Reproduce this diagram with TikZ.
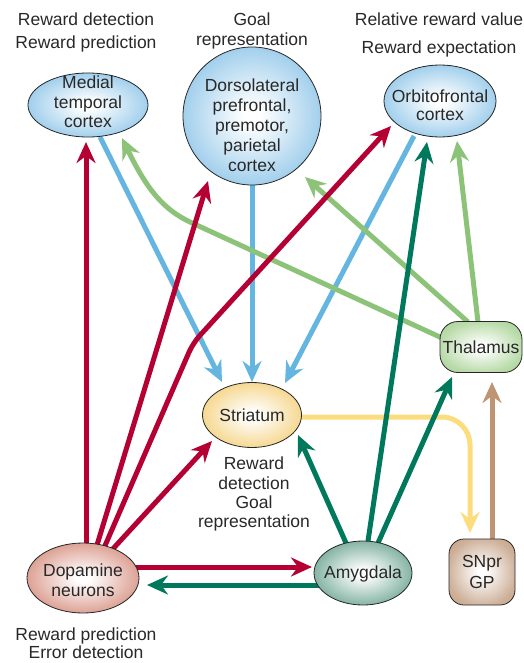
\documentclass[tikz,border=0pt]{standalone}
\usepackage{fontspec}
\setmainfont{Liberation Sans}
\usetikzlibrary{arrows.meta,calc,backgrounds,shapes.geometric}
\definecolor{txtc}{RGB}{40,40,40}
\definecolor{nblue}{RGB}{105,178,225}
\definecolor{nyellow}{RGB}{240,192,78}
\definecolor{nsalmon}{RGB}{200,105,85}
\definecolor{nteal}{RGB}{42,124,98}
\definecolor{nlgreen}{RGB}{145,198,120}
\definecolor{ntan}{RGB}{180,135,100}
\definecolor{ared}{RGB}{180,0,50}
\definecolor{ablue}{RGB}{100,182,224}
\definecolor{algreen}{RGB}{140,195,120}
\definecolor{adgreen}{RGB}{0,120,92}
\definecolor{ayellow}{RGB}{252,220,125}
\definecolor{abrown}{RGB}{190,148,115}
\pgfdeclareradialshading{shblue}{\pgfpoint{0bp}{0bp}}{color(0bp)=(white); color(3bp)=(white); color(26bp)=(nblue!65); color(50bp)=(nblue)}
\pgfdeclareradialshading{shyellow}{\pgfpoint{0bp}{0bp}}{color(0bp)=(white); color(3bp)=(white); color(26bp)=(nyellow!65); color(50bp)=(nyellow)}
\pgfdeclareradialshading{shsalmon}{\pgfpoint{0bp}{0bp}}{color(0bp)=(white); color(3bp)=(white); color(26bp)=(nsalmon!65); color(50bp)=(nsalmon)}
\pgfdeclareradialshading{shteal}{\pgfpoint{0bp}{0bp}}{color(0bp)=(white); color(3bp)=(white); color(26bp)=(nteal!60); color(50bp)=(nteal)}
\pgfdeclareradialshading{shgreen}{\pgfpoint{0bp}{0bp}}{color(0bp)=(white); color(3bp)=(white); color(26bp)=(nlgreen!65); color(50bp)=(nlgreen)}
\pgfdeclareradialshading{shtan}{\pgfpoint{0bp}{0bp}}{color(0bp)=(white); color(3bp)=(white); color(26bp)=(ntan!65); color(50bp)=(ntan)}
\begin{document}
\begin{tikzpicture}[x=1pt,y=-1pt,
  font=\fontsize{17.5}{19.5}\selectfont,
  txt/.style={text=txtc, align=center, inner sep=0pt},
  region/.style={draw=black!85, line width=0.8pt, shade, inner sep=0pt, text=txtc, align=center},
  oval/.style={region, ellipse},
  rbox/.style={region, rectangle, rounded corners=#1},
  conn/.style={line width=5pt, -{Stealth[length=21pt,width=19pt,inset=7pt]}},
]
\useasboundingbox (0,0) rectangle (523,663);

% regions
\node[oval, shading=shblue, minimum width=120pt, minimum height=64pt] (mtc) at (88,105) {};
\node[txt] (mtct) at (88,102) {Medial\\temporal\\cortex};
\node[region, circle, shading=shblue, minimum size=138pt] (dlpf) at (252,116) {};
\node[txt, font=\fontsize{17.5}{20}\selectfont] (dlpft) at (252,125) {Dorsolateral\\prefrontal,\\premotor,\\parietal\\cortex};
\node[oval, shading=shblue, minimum width=112pt, minimum height=72pt] (ofc) at (440,101) {};
\node[txt, font=\fontsize{17.5}{18.5}\selectfont] (ofct) at (440,105) {Orbitofrontal\\cortex};
\node[rbox=18pt, shading=shgreen, minimum width=82pt, minimum height=51pt] (thal) at (481,347) {Thalamus};
\node[oval, shading=shyellow, minimum width=99pt, minimum height=65pt] (str) at (252,415) {Striatum};
\node[oval, shading=shsalmon, minimum width=112pt, minimum height=70pt] (dop) at (83,578) {};
\node[txt, font=\fontsize{17.5}{20}\selectfont] (dopt) at (83,580) {Dopamine\\neurons};
\node[oval, shading=shteal, minimum width=98pt, minimum height=64pt] (amy) at (363,573) {};
\node[txt] (amyt) at (363,574) {Amygdala};
\node[rbox=15pt, shading=shtan, minimum width=66pt, minimum height=66pt, font=\fontsize{17.5}{21}\selectfont] (snpr) at (482,572) {SNpr\\GP};

% labels
\node[txt, font=\fontsize{17.5}{23}\selectfont, anchor=north] (lab1) at (86,13) {Reward detection\\Reward prediction};
\node[txt, font=\fontsize{17.5}{20}\selectfont, anchor=north] (lab2) at (252,13) {Goal\\representation};
\node[txt, font=\fontsize{17.5}{28}\selectfont, anchor=north] (lab3) at (439,13) {Relative reward value\\Reward expectation};
\node[txt, font=\fontsize{17.5}{19.3}\selectfont, anchor=north] (lab4) at (254,457) {Reward\\detection\\Goal\\representation};
\node[txt, font=\fontsize{17.5}{18}\selectfont, anchor=north] (lab5) at (86,628) {Reward prediction\\Error detection};

\coordinate (bend1) at (193,343);
\coordinate (bend2) at (190,222);

\begin{scope}[on background layer]
% blue
\draw[conn, ablue] ($(mtc)+(12,32)$) -- ($(str)+(-30,-33)$);
\draw[conn, ablue] ($(dlpf)+(0,69)$) -- ($(str)+(0,-33)$);
\draw[conn, ablue] ($(ofc)+(-26,35)$) -- ($(str)+(33,-32)$);
% light green
\draw[conn, algreen] ($(thal)+(-39,-9)$) -- (bend2) .. controls (165,210) and (148,192) .. ($(mtc)+(34,33)$);
\draw[conn, algreen] ($(thal)+(-13,-25)$) -- ($(dlpf)+(53,61)$);
\draw[conn, algreen] ($(thal)+(-3,-25)$) -- ($(ofc)+(17,40)$);
% yellow
\draw[conn, ayellow, rounded corners=28pt] ($(str)+(49,2)$) -| ($(snpr)+(-12,-39)$);
% brown
\draw[conn, abrown] ($(snpr)+(10,-33)$) -- ($(thal)+(11,35)$);
% red
\draw[conn, ared] ($(dop)+(3,-35)$) -- ($(mtc)+(-2,37)$);
\draw[conn, ared] ($(dop)+(14,-33)$) -- ($(dlpf)+(-44,65)$);
\draw[conn, ared, rounded corners=10pt] ($(dop)+(21,-30)$) -- (bend1) -- ($(ofc)+(-49,25)$);
\draw[conn, ared] ($(dop)+(27,-26)$) -- ($(str)+(-40,26)$);
\draw[conn, ared] ($(dop)+(52,-11)$) -- ($(amy)+(-51,-6)$);
% dark green
\draw[conn, adgreen] ($(amy)+(-44,12)$) -- ($(dop)+(64,7)$);
\draw[conn, adgreen] ($(amy)+(-17,-30)$) -- ($(str)+(46,20)$);
\draw[conn, adgreen] ($(amy)+(5,-32)$) -- ($(ofc)+(-13,41)$);
\draw[conn, adgreen] ($(amy)+(15,-30)$) -- ($(thal)+(-29,30)$);
\end{scope}
\end{tikzpicture}
\end{document}
